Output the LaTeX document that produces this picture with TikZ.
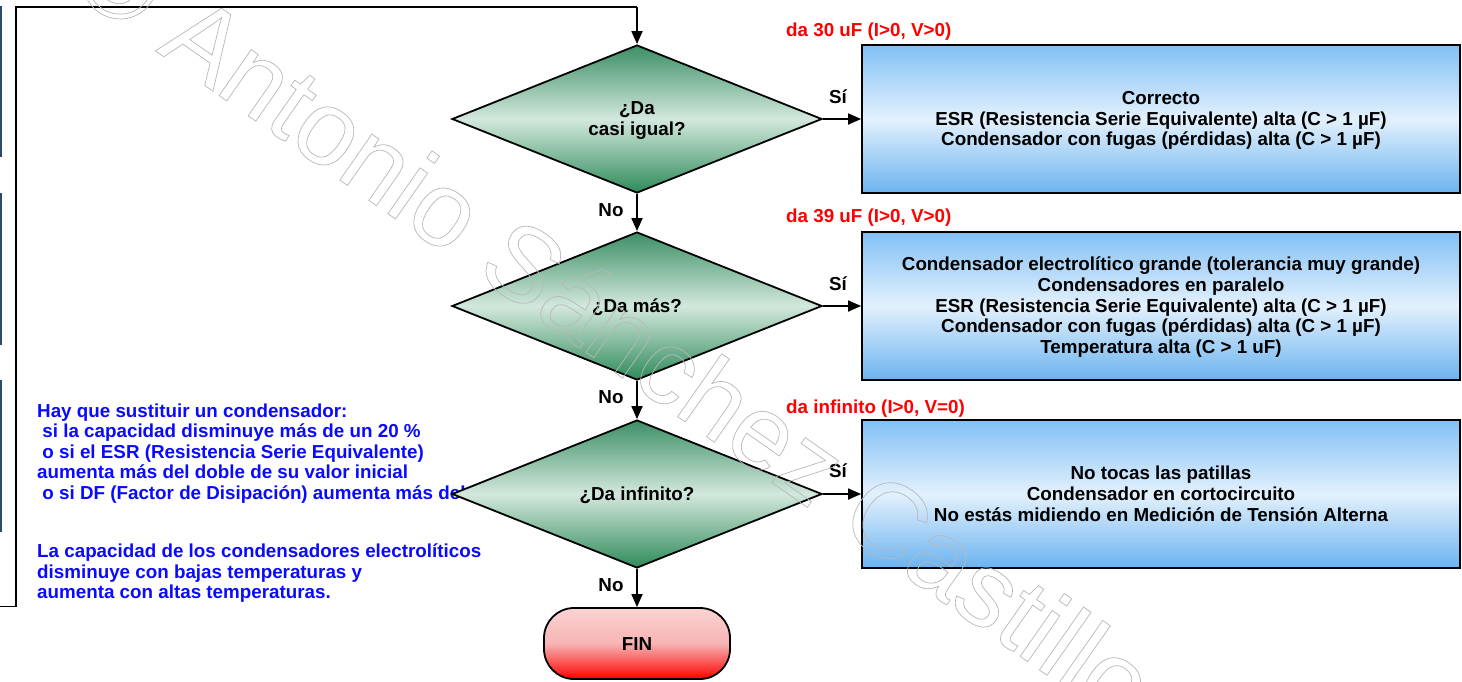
\documentclass[tikz,border=0pt]{standalone}
\usepackage{fontspec}
\setmainfont{Liberation Sans}
\usetikzlibrary{shapes.geometric,arrows.meta}
\definecolor{gtop}{HTML}{3C8F66}
\definecolor{gbot}{HTML}{2E8B5A}
\definecolor{gmid}{HTML}{D3E8DD}
\definecolor{btop}{HTML}{82C0F5}
\definecolor{bmid}{HTML}{E3F1FD}
\definecolor{bbot}{HTML}{6BB3F0}
\definecolor{ftop}{HTML}{FBD3D3}
\definecolor{fmid}{HTML}{F7B4B4}
\definecolor{fbot}{HTML}{FF0000}
\definecolor{bluetxt}{HTML}{0A0AFF}
\definecolor{redtxt}{HTML}{FF0000}
\definecolor{sliver}{HTML}{2B4A6B}
\definecolor{wm}{HTML}{B8B8B8}
\newcommand{\ps}{\rule[-0.157em]{0pt}{1.007em}}
\begin{document}
\begin{tikzpicture}[x=1pt,y=-1pt,
  txt/.style={font=\fontsize{18.8}{20.6}\selectfont\bfseries},
  dec/.style={diamond, draw=black, line width=1.8pt, minimum width=370pt, minimum height=148pt, inner sep=0pt,
    top color=gtop, bottom color=gbot, middle color=gmid, txt, align=center},
  res/.style={rectangle, draw=black, line width=1.8pt, minimum width=598pt, minimum height=148pt, inner sep=0pt,
    top color=btop, bottom color=bbot, middle color=bmid, txt, align=center},
  finbox/.style={rectangle, rounded corners=30pt, draw=black, line width=1.8pt, minimum width=186pt, minimum height=71pt,
    top color=ftop, bottom color=fbot, middle color=fmid, txt},
  arr/.style={line width=1.8pt, -{Triangle[length=13pt,width=11pt]}},
  plain/.style={line width=1.8pt},
  lbl/.style={txt, inner sep=0pt},
  redlbl/.style={txt, text=redtxt, inner sep=0pt, anchor=west},
  note/.style={font=\fontsize{18.8}{20.6}\selectfont\bfseries, text=bluetxt, align=left, inner sep=0pt, anchor=north west}
]
\useasboundingbox (0,0) rectangle (1462,681);
\fill[white] (0,0) rectangle (1462,681);

% slivers of cut-off boxes at the left edge
\fill[sliver] (0,6) rectangle (1.8,157);
\fill[sliver] (0,193) rectangle (1.8,345);
\fill[sliver] (0,380) rectangle (1.8,532);

% blue notes
\node[note] (note1) at (37,403.3) {Hay que sustituir un condensador:\\
\ si la capacidad disminuye más de un 20 \%\\
\ o si el ESR (Resistencia Serie Equivalente)\\
aumenta más del doble de su valor inicial\\
\ o si DF (Factor de Disipación) aumenta más del};
\node[note] (note2) at (37,543.5) {La capacidad de los condensadores electrolíticos\\
disminuye con bajas temperaturas y\\
aumenta con altas temperaturas.};

% decisions
\node[dec] (d1) at (637,119) {\ps¿Da\\\ps casi igual?};
\node[dec] (d2) at (637,306) {\ps¿Da más?};
\node[dec] (d3) at (637,494) {\ps¿Da infinito?};
\node[finbox] (fin) at (637,643.5) {\ps FIN};

% result boxes
\node[res] (r1) at (1161,119) {\ps Correcto\\\ps ESR (Resistencia Serie Equivalente) alta (C > 1 µF)\\\ps Condensador con fugas (pérdidas) alta (C > 1 µF)};
\node[res] (r2) at (1161,306) {\ps Condensador electrolítico grande (tolerancia muy grande)\\\ps Condensadores en paralelo\\\ps ESR (Resistencia Serie Equivalente) alta (C > 1 µF)\\\ps Condensador con fugas (pérdidas) alta (C > 1 µF)\\\ps Temperatura alta (C > 1 uF)};
\node[res] (r3) at (1161,494) {\ps No tocas las patillas\\\ps Condensador en cortocircuito\\\ps No estás midiendo en Medición de Tensión Alterna};

% red headings
\node[redlbl] (h1) at (786,31.5) {da 30 uF (I>0, V>0)};
\node[redlbl] (h2) at (786,217.5) {da 39 uF (I>0, V>0)};
\node[redlbl] (h3) at (786,408.5) {da infinito (I>0, V=0)};

% loop connector
\coordinate (lp0) at (0,606.5);
\coordinate (lp1) at (16,606.5);
\coordinate (lp2) at (16,7.3);
\draw[plain] (lp0) -- (lp1) -- (lp2) -- (lp2 -| d1.north);
\draw[arr] (lp2 -| d1.north) -- (d1.north);

% connectors
\draw[arr] (d1.south) -- (d2.north);
\draw[arr] (d2.south) -- (d3.north);
\draw[arr] (d3.south) -- (fin.north);
\draw[arr] (d1.east) -- (r1.west);
\draw[arr] (d2.east) -- (r2.west);
\draw[arr] (d3.east) -- (r3.west);

% labels
\node[lbl] (n1) at (611,210) {No};
\node[lbl] (n2) at (611,397) {No};
\node[lbl] (n3) at (611,585) {No};
\node[lbl] (s1) at (838,97) {Sí};
\node[lbl] (s2) at (838,284) {Sí};
\node[lbl] (s3) at (838,471) {Sí};

% watermark (outlined text)
\node[anchor=base west, rotate=-35, inner sep=0pt, text=wm, font=\fontsize{106}{106}\selectfont\mdseries] (wmark) at (67,-11)
  {\special{pdf:literal direct 1 Tr 0.7 w}© Antonio Sánchez Castillo\special{pdf:literal direct 0 Tr}};
\end{tikzpicture}
\end{document}
